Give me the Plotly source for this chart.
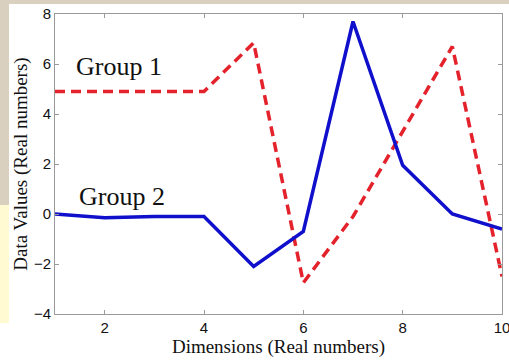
import plotly.graph_objects as go

dims = [1, 2, 3, 4, 5, 6, 7, 8, 9, 10]
group1 = [4.9, 4.9, 4.9, 4.9, 6.85, -2.75, -0.1, 3.3, 6.7, -2.5]
group2 = [0.0, -0.15, -0.1, -0.1, -2.1, -0.7, 7.7, 1.95, 0.0, -0.6]
x_ticks = [2, 4, 6, 8, 10]
y_ticks = [-4, -2, 0, 2, 4, 6, 8]

W, H = 509, 360
L, R, T, B = 55, 7, 14, 46
pw, ph = W - L - R, H - T - B

def px(x):
    return (x - L) / pw

def py(y):
    return (H - B - y) / ph

fig = go.Figure()
fig.add_trace(go.Scatter(x=dims, y=group1, mode="lines",
                         line=dict(color="#e3222c", width=3.5, dash="10px,6px"),
                         showlegend=False))
fig.add_trace(go.Scatter(x=dims, y=group2, mode="lines",
                         line=dict(color="#1010cc", width=3.5),
                         showlegend=False))

shapes = [
    dict(type="rect", xref="paper", yref="paper", x0=px(0), x1=px(9), y0=py(205), y1=py(0),
         fillcolor="#d9d0bf", line=dict(width=0), layer="below"),
    dict(type="rect", xref="paper", yref="paper", x0=px(0), x1=px(W), y0=py(4), y1=py(0),
         fillcolor="#d9d0bf", line=dict(width=0), layer="below"),
    dict(type="rect", xref="paper", yref="paper", x0=px(0), x1=px(9), y0=py(323), y1=py(205),
         fillcolor="#fffad2", line=dict(width=0), layer="below"),
]

ann = [
    dict(x=1.39, y=5.9, xref="x", yref="y", text="Group 1", showarrow=False,
         xanchor="left", yanchor="middle",
         font=dict(family="Liberation Serif", size=26, color="#111")),
    dict(x=1.45, y=0.7, xref="x", yref="y", text="Group 2", showarrow=False,
         xanchor="left", yanchor="middle",
         font=dict(family="Liberation Serif", size=26, color="#111")),
]

axis_common = dict(showgrid=False, zeroline=False, showline=True, linecolor="#9a9a9a",
                   linewidth=1, mirror="ticks", ticks="inside", ticklen=4,
                   tickcolor="#9a9a9a", ticklabeloverflow="allow", automargin=False,
                   tickfont=dict(family="Liberation Sans", size=15, color="#111"))

fig.update_layout(
    width=W, height=H,
    margin=dict(l=L, r=R, t=T, b=B, autoexpand=False),
    paper_bgcolor="white", plot_bgcolor="white",
    shapes=shapes, annotations=ann,
    xaxis=dict(range=[1, 10], tickvals=x_ticks,
               title=dict(text="Dimensions (Real numbers)", standoff=1,
                          font=dict(family="Liberation Serif", size=19, color="#111")),
               **axis_common),
    yaxis=dict(range=[-4, 8], tickvals=y_ticks,
               title=dict(text="Data Values (Real numbers)", standoff=1,
                          font=dict(family="Liberation Serif", size=19, color="#111")),
               **axis_common),
)

fig.write_html("out.html")
